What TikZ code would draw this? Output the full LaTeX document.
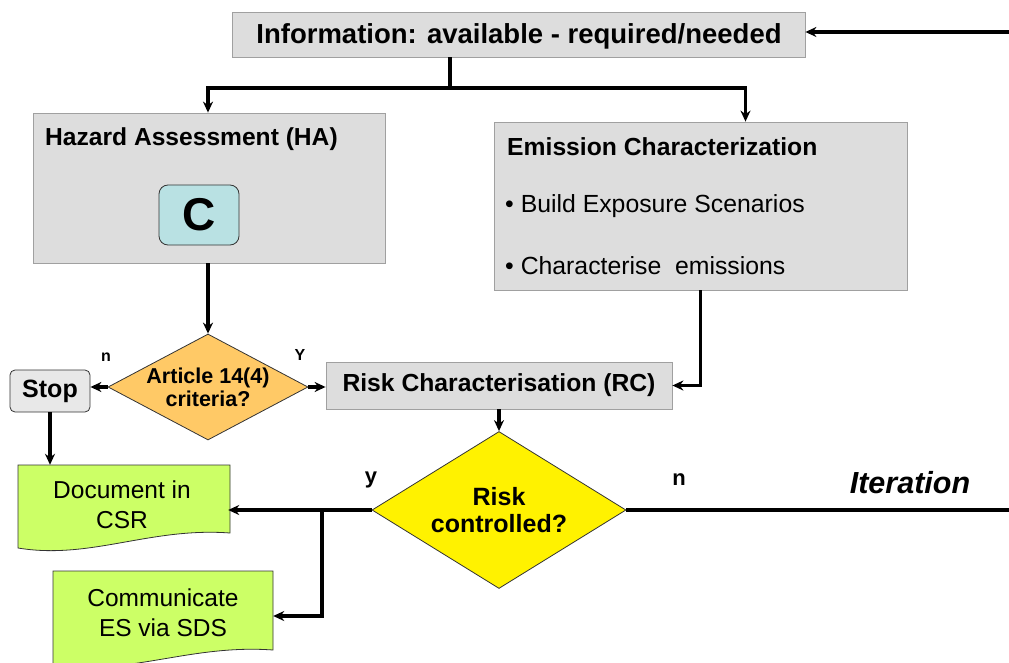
\documentclass[tikz,border=0pt]{standalone}
\usepackage{fontspec}
\setmainfont{Liberation Sans}
\usetikzlibrary{shapes.geometric,arrows.meta,calc}
\definecolor{boxgray}{HTML}{DDDDDD}
\definecolor{boxline}{HTML}{A0A0A0}
\definecolor{cfill}{HTML}{B9E1E3}
\definecolor{stopfill}{HTML}{E8E8E8}
\definecolor{orangefill}{HTML}{FFC966}
\definecolor{greenfill}{HTML}{CCFF66}
\begin{document}
\begin{tikzpicture}[x=1pt,y=-1pt,
  graybox/.style={draw=boxline,fill=boxgray,line width=0.8pt,inner sep=0pt},
  conn/.style={line width=3.2pt,-{Stealth[length=11pt,width=10pt]}},
  plain/.style={line width=3.2pt},
  lbl/.style={font=\bfseries\fontsize{16}{18}\selectfont,inner sep=0pt},
  bigl/.style={font=\bfseries\fontsize{22}{24}\selectfont,inner sep=0pt},
  doctext/.style={align=center,font=\fontsize{24.5}{30}\selectfont,inner sep=0pt}]
\useasboundingbox (0,0) rectangle (1009,663);
% boxes
\node[graybox,minimum width=573pt,minimum height=45pt] (info) at (518.5,34.5) {};
\node[inner sep=0pt,font=\bfseries\fontsize{27.5}{30}\selectfont] (infot) at (519,36.5) {Information: available - required/needed};
\node[graybox,minimum width=352pt,minimum height=150pt] (ha) at (209,188) {};
\node[anchor=west,inner sep=0pt,font=\bfseries\fontsize{24.6}{28}\selectfont] (hat) at (45,139) {Hazard Assessment (HA)};
\node[draw=black!80,fill=cfill,rounded corners=9pt,minimum width=80pt,minimum height=60pt,line width=0.8pt,font=\bfseries\fontsize{46}{50}\selectfont] (c) at (199,215) {C};
\node[graybox,minimum width=413pt,minimum height=168pt] (ec) at (700.5,206) {};
\node[anchor=west,inner sep=0pt,font=\bfseries\fontsize{24.7}{28}\selectfont] (ect) at (507,147) {Emission Characterization};
\node[anchor=west,inner sep=0pt,font=\fontsize{24.8}{28}\selectfont] (b1) at (505,206) {• Build Exposure Scenarios};
\node[anchor=west,inner sep=0pt,font=\fontsize{24.8}{28}\selectfont] (b2) at (505,266) {• Characterise\ \ emissions};
\node[diamond,draw=black!80,fill=orangefill,line width=0.8pt,minimum width=200pt,minimum height=106pt,inner sep=0pt,
  label={[align=center,font=\bfseries\fontsize{21.5}{23}\selectfont]center:Article 14(4)\\criteria?}] (art) at (208,387) {};
\node[draw=black!80,fill=stopfill,rounded corners=5pt,minimum width=80pt,minimum height=42pt,line width=0.8pt,inner sep=0pt,font=\bfseries\fontsize{25}{28}\selectfont] (stop) at (50,391) {Stop};
\node[graybox,minimum width=346pt,minimum height=47pt,font=\bfseries\fontsize{24.7}{28}\selectfont] (rc) at (499,385.5) {Risk Characterisation (RC)};
\node[diamond,draw=black!80,fill=yellow,line width=0.8pt,minimum width=254pt,minimum height=157pt,inner sep=0pt,
  label={[align=center,font=\bfseries\fontsize{25}{27}\selectfont]center:Risk\\controlled?}] (rd) at (499,510) {};
% document shapes
\path[draw=black!80,fill=greenfill,line width=0.8pt] (18,465) -- (230,465) -- (230,533)
  .. controls (150,527) and (90,560) .. (18,548) -- cycle;
\node[doctext,minimum width=212pt,minimum height=80pt] (doc) at (122,505) {Document in\\CSR};
\path[draw=black!80,fill=greenfill,line width=0.8pt] (53,571) -- (273,571) -- (273,650)
  .. controls (190,644) and (130,676) .. (53,665) -- cycle;
\node[doctext,minimum width=220pt,minimum height=70pt] (comm) at (163,613) {Communicate\\ES via SDS};
% coordinates
\coordinate (rin) at (1009,32);
\coordinate (rout) at (1009,510);
\coordinate (split) at (450,88);
\coordinate (br) at (322,510);
% connectors
\draw[conn] (rin) -- (info.east |- rin);
\draw[plain] (info.south -| split) -- (split);
\draw[conn] (split) -| (ha.north -| art.north);
\draw[conn] (split) -| ($(ec.north)+(45,0)$);
\draw[conn] (ha.south -| art.north) -- (art.north);
\draw[conn] (art.west) -- (art.west -| stop.east);
\draw[conn] (art.east) -- (art.east -| rc.west);
\draw[conn] (ec.south) |- (rc.east);
\draw[conn] (rc.south) -- (rd.north);
\draw[conn] (stop.south) -- (stop.south |- doc.north);
\draw[plain] (rd.east) -- (rout);
\draw[conn] (rd.west) -- (rd.west -| doc.east);
\draw[conn] (br) |- (comm.east |- 0,616);
% labels
\node[lbl] (ln) at (106,357) {n};
\node[lbl] (lY) at (300,355) {Y};
\node[bigl] (ly) at (371,480) {y};
\node[bigl] (ln2) at (679,480) {n};
\node[inner sep=0pt,font=\bfseries\itshape\fontsize{30.5}{33}\selectfont] (iter) at (910,483) {Iteration};
\end{tikzpicture}
\end{document}
